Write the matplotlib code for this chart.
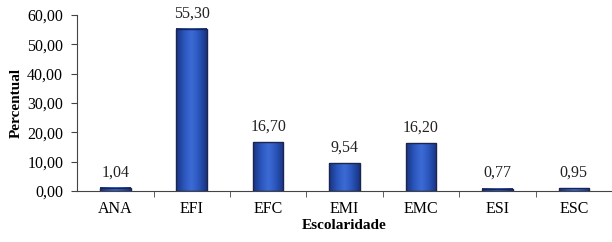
import numpy as np
import matplotlib
matplotlib.use("Agg")
import matplotlib.pyplot as plt
from matplotlib.colors import LinearSegmentedColormap

categorias = ["ANA", "EFI", "EFC", "EMI", "EMC", "ESI", "ESC"]
percentual = [1.04, 55.30, 16.70, 9.54, 16.20, 0.77, 0.95]
rotulos = ["1,04", "55,30", "16,70", "9,54", "16,20", "0,77", "0,95"]
yticks = [0, 10, 20, 30, 40, 50, 60]

plt.rcParams['font.family'] = ['Liberation Serif', 'DejaVu Serif']

fig = plt.figure(figsize=(6.12, 2.42), dpi=100)
ax = fig.add_axes([0.126, 0.211, 0.874, 0.727])

# degradê horizontal das barras (escuro nas bordas, claro no meio)
cmap = LinearSegmentedColormap.from_list(
    "azul", ["#1a3380", "#2a55bb", "#3d6bd6", "#2a55bb", "#1a3380"])
grad = np.linspace(0, 1, 64).reshape(1, -1)

x = np.arange(len(categorias))
largura = 0.4
bars = ax.bar(x, percentual, width=largura, color="none",
              edgecolor="#1b2550", linewidth=1.0, zorder=3)
for b in bars:
    x0, w, h = b.get_x(), b.get_width(), b.get_height()
    ax.imshow(grad, cmap=cmap, aspect="auto", extent=(x0, x0 + w, 0, h),
              zorder=2, interpolation="bilinear")

for xi, v, t in zip(x, percentual, rotulos):
    ax.text(xi, v + 2.6, t, ha="center", va="bottom", fontsize=11.5, color="#222222")

ax.set_xlim(-0.5, len(categorias) - 0.5)
ax.set_ylim(0, 60)
ax.set_yticks(yticks)
ax.set_yticklabels(["%d,00" % v for v in yticks], fontsize=11.5)

ax.set_xticks(x)
ax.set_xticklabels(categorias, fontsize=11.5)
ax.tick_params(axis="x", length=0, pad=7)
ax.set_xticks(np.arange(0.5, len(categorias) - 0.5, 1), minor=True)
ax.tick_params(axis="x", which="minor", length=4, direction="out", color="#444444")
ax.tick_params(axis="y", length=4, direction="out", color="#444444", pad=6)

for s in ["top", "right"]:
    ax.spines[s].set_visible(False)
for s in ["left", "bottom"]:
    ax.spines[s].set_color("#444444")

ax.set_ylabel("Percentual", fontsize=11, fontweight="bold", labelpad=3)
ax.set_xlabel("Escolaridade", fontsize=11, fontweight="bold", labelpad=1.5)

fig.savefig("out.png", dpi=100)
